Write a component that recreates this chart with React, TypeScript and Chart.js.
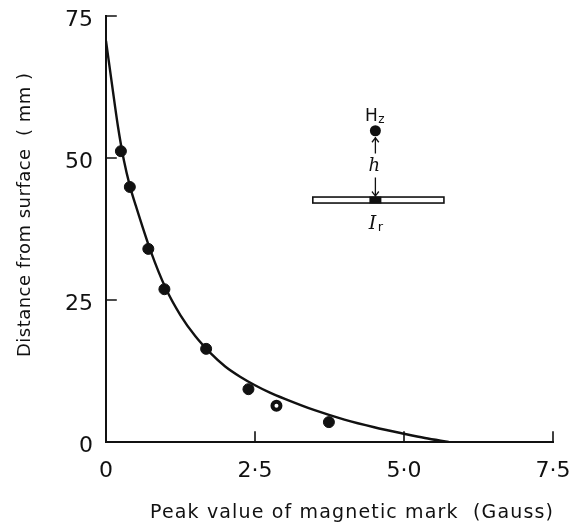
import React, { useEffect, useRef } from "react";
import { Chart, registerables } from "chart.js";

Chart.register(...registerables);

// Measured peak field at each lift-off distance
const MEASURED_GAUSS = [0.25, 0.4, 0.71, 0.98, 1.68, 2.39, 2.86, 3.74];
const MEASURED_MM = [51.2, 44.9, 34.0, 26.9, 16.4, 9.3, 6.4, 3.5];

// Smooth fitted curve through the measurements
const CURVE_GAUSS = [0, 0.1, 0.2, 0.3, 0.4, 0.5, 0.75, 1.0, 1.25, 1.5, 1.75, 2.0, 2.25, 2.5, 2.75, 3.0, 3.5, 4.0, 4.5, 5.0, 5.35, 5.75];
const CURVE_MM = [70.6, 63.0, 55.6, 49.6, 45.1, 41.6, 33.6, 27.1, 22.3, 18.6, 15.7, 13.3, 11.5, 10.0, 8.7, 7.6, 5.6, 3.95, 2.6, 1.45, 0.7, 0];

// Axis ticks and their printed labels
const X_TICKS = [0, 2.5, 5, 7.5];
const X_TICK_LABELS = ["0", "2·5", "5·0", "7·5"];
const Y_TICKS = [0, 25, 50, 75];
const Y_TICK_LABELS = ["0", "25", "50", "75"];

const X_TITLE = "Peak value of magnetic mark  (Gauss)";
const Y_TITLE = "Distance from surface  ( mm )";

const FONT = '"DejaVu Sans", "Liberation Sans", sans-serif';
const INK = "#111";

// Fill text centred on cx, stretched with letter spacing to span the given width.
function spacedText(ctx: any, text: string, cx: number, y: number, width: number) {
  ctx.letterSpacing = "0px";
  const natural = ctx.measureText(text).width;
  const gap = Math.max(0, (width - natural) / (text.length - 1));
  ctx.letterSpacing = `${gap}px`;
  ctx.textAlign = "left";
  ctx.fillText(text, cx - width / 2, y);
  ctx.letterSpacing = "0px";
}

// Draws the L-shaped axes with inward ticks, the labels and the sketch of the sensor.
const decorPlugin = {
  id: "decor",
  afterDraw(chart: any) {
    const { ctx } = chart;
    const xs = chart.scales.x;
    const ys = chart.scales.y;
    const px = (v: number) => xs.getPixelForValue(v);
    const py = (v: number) => ys.getPixelForValue(v);
    const x0 = px(0);
    const y0 = py(0);
    const tick = 10;

    ctx.save();
    ctx.strokeStyle = INK;
    ctx.fillStyle = INK;
    ctx.lineWidth = 2;
    ctx.lineCap = "square";

    // axes
    ctx.beginPath();
    ctx.moveTo(x0, py(75));
    ctx.lineTo(x0, y0);
    ctx.lineTo(px(7.5), y0);
    ctx.stroke();

    ctx.lineWidth = 1.6;
    ctx.beginPath();
    Y_TICKS.forEach((v) => {
      if (v === 0) return;
      ctx.moveTo(x0, py(v));
      ctx.lineTo(x0 + tick, py(v));
    });
    X_TICKS.forEach((v) => {
      if (v === 0) return;
      ctx.moveTo(px(v), y0);
      ctx.lineTo(px(v), y0 - tick);
    });
    ctx.stroke();

    // tick labels
    ctx.font = `22px ${FONT}`;
    ctx.textAlign = "right";
    ctx.textBaseline = "alphabetic";
    Y_TICKS.forEach((v, i) => {
      ctx.fillText(Y_TICK_LABELS[i], x0 - 13, py(v) + 10);
    });
    ctx.textAlign = "center";
    X_TICKS.forEach((v, i) => {
      ctx.fillText(X_TICK_LABELS[i], px(v), y0 + 35);
    });

    // axis titles
    ctx.font = `19px ${FONT}`;
    spacedText(ctx, X_TITLE, 351.5, y0 + 76, 403);
    ctx.save();
    ctx.translate(30, 215);
    ctx.rotate(-Math.PI / 2);
    ctx.font = `18px ${FONT}`;
    spacedText(ctx, Y_TITLE, 0, 0, 284);
    ctx.restore();

    // sensor sketch: probe H_z at height h above the remanent mark I_r
    const probeX = px(4.52);
    const probeY = py(54.8);
    const plateY = py(42.6);
    const plateL = px(3.47);
    const plateR = px(5.67);

    ctx.beginPath();
    ctx.arc(probeX, probeY, 5.5, 0, Math.PI * 2);
    ctx.fill();

    ctx.lineWidth = 1.6;
    ctx.strokeRect(plateL, plateY - 3, plateR - plateL, 6);
    ctx.fillRect(probeX - 6, plateY - 3.5, 12, 7);

    ctx.lineWidth = 1.3;
    ctx.beginPath();
    ctx.moveTo(probeX, probeY + 7);
    ctx.lineTo(probeX, probeY + 22);
    ctx.moveTo(probeX - 3, probeY + 11);
    ctx.lineTo(probeX, probeY + 7);
    ctx.lineTo(probeX + 3, probeY + 11);
    ctx.moveTo(probeX, plateY - 22);
    ctx.lineTo(probeX, plateY - 4);
    ctx.moveTo(probeX - 3, plateY - 8);
    ctx.lineTo(probeX, plateY - 4);
    ctx.lineTo(probeX + 3, plateY - 8);
    ctx.stroke();

    ctx.textAlign = "center";
    ctx.textBaseline = "alphabetic";
    ctx.font = `17px ${FONT}`;
    ctx.fillText("H", probeX - 4, probeY - 10);
    ctx.font = `12px ${FONT}`;
    ctx.fillText("z", probeX + 6, probeY - 8);
    ctx.font = `italic 18px "DejaVu Serif", serif`;
    ctx.fillText("h", probeX - 1, (probeY + plateY) / 2 + 6);
    ctx.font = `italic 19px "DejaVu Serif", serif`;
    ctx.fillText("I", probeX - 3, plateY + 29);
    ctx.font = `13px ${FONT}`;
    ctx.fillText("r", probeX + 5, plateY + 31);

    ctx.restore();
  },
};

export default function App() {
  const canvasRef = useRef<HTMLCanvasElement | null>(null);

  useEffect(() => {
    if (!canvasRef.current) return;
    const chart = new Chart(canvasRef.current, {
      type: "scatter",
      data: {
        datasets: [
          {
            label: "fit",
            type: "line",
            data: CURVE_GAUSS.map((x, i) => ({ x, y: CURVE_MM[i] })),
            borderColor: INK,
            borderWidth: 2.4,
            pointRadius: 0,
            cubicInterpolationMode: "monotone",
            fill: false,
          } as any,
          {
            label: "measured",
            data: MEASURED_GAUSS.map((x, i) => ({ x, y: MEASURED_MM[i] })),
            backgroundColor: MEASURED_GAUSS.map((_, i) => (i === 6 ? "#fff" : INK)),
            borderColor: INK,
            borderWidth: MEASURED_GAUSS.map((_, i) => (i === 6 ? 4 : 1)),
            pointRadius: MEASURED_GAUSS.map((_, i) => (i === 6 ? 4 : 5.5)),
          } as any,
        ],
      },
      options: {
        responsive: false,
        animation: false,
        layout: { padding: { left: 106, right: 19, top: 16, bottom: 87 } },
        plugins: { legend: { display: false }, tooltip: { enabled: false } },
        scales: {
          x: { type: "linear", min: 0, max: 7.5, display: false },
          y: { type: "linear", min: 0, max: 75, display: false },
        },
      },
      plugins: [decorPlugin],
    });
    return () => chart.destroy();
  }, []);

  return (
    <div style={{ position: "absolute", left: 0, top: 0, width: 572, height: 529, background: "#fff" }}>
      <canvas ref={canvasRef} width={572} height={529} />
    </div>
  );
}
